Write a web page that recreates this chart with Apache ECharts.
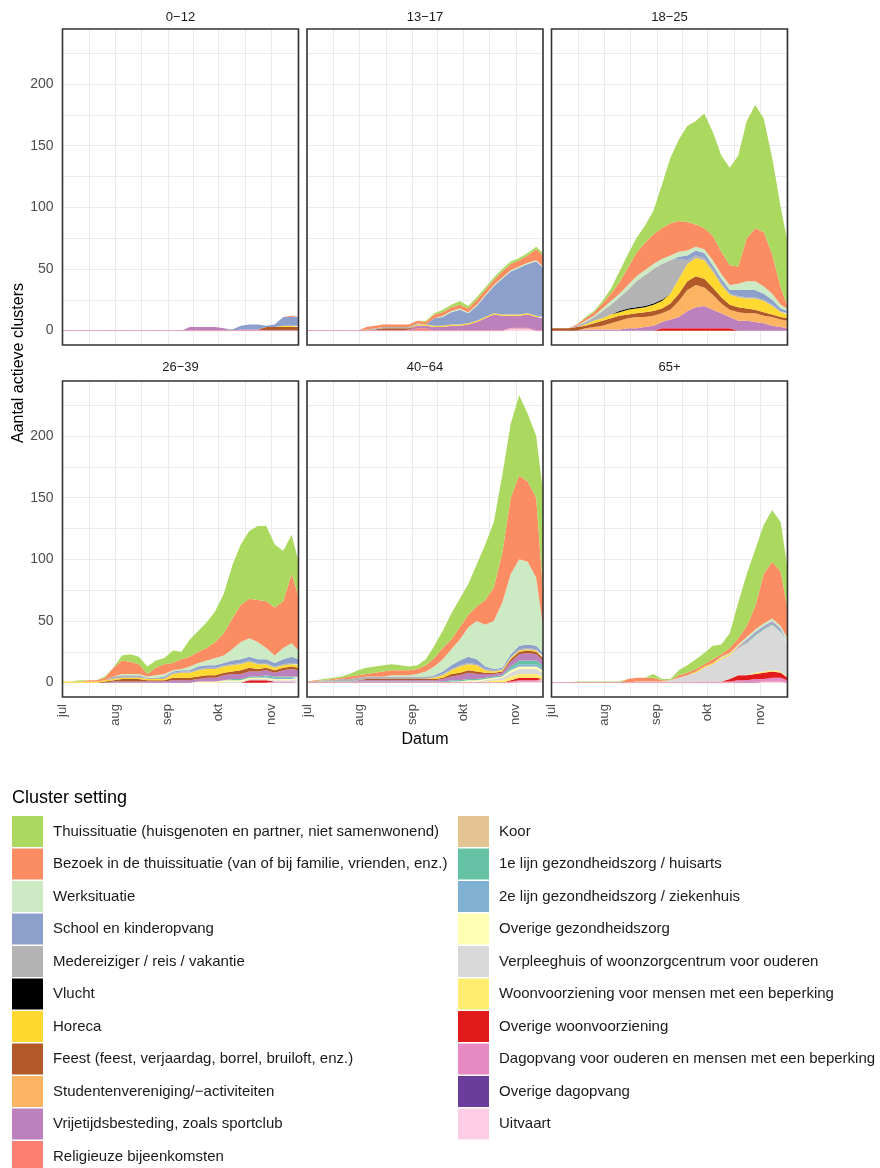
<!DOCTYPE html>
<html><head><meta charset="utf-8">
<script src="https://cdn.jsdelivr.net/npm/echarts@6.0.0/dist/echarts.min.js"></script>
<style>html,body{margin:0;padding:0;background:#fff}#c{width:880px;height:1168px}</style>
</head><body><div id="c"></div>
<script>
// ---------- categories / legend ----------
const categories = [
  'Thuissituatie (huisgenoten en partner, niet samenwonend)',
  'Bezoek in de thuissituatie (van of bij familie, vrienden, enz.)',
  'Werksituatie',
  'School en kinderopvang',
  'Medereiziger / reis / vakantie',
  'Vlucht',
  'Horeca',
  'Feest (feest, verjaardag, borrel, bruiloft, enz.)',
  'Studentenvereniging/\u2212activiteiten',
  'Vrijetijdsbesteding, zoals sportclub',
  'Religieuze bijeenkomsten',
  'Koor',
  '1e lijn gezondheidszorg / huisarts',
  '2e lijn gezondheidszorg / ziekenhuis',
  'Overige gezondheidszorg',
  'Verpleeghuis of woonzorgcentrum voor ouderen',
  'Woonvoorziening voor mensen met een beperking',
  'Overige woonvoorziening',
  'Dagopvang voor ouderen en mensen met een beperking',
  'Overige dagopvang',
  'Uitvaart'
];
const catKeys = ['thuis','bezoek','werk','school','mede','vlucht','horeca','feest','student','vrij','relig','koor','eerste','tweede','ovgez','verpl','woonv','ovwoon','dagopv','ovdag','uitvaart'];
const catColors = ['#ABD95F','#FC8D62','#CCEBC5','#8DA0CB','#B3B3B3','#000000','#FFD92F','#B15928','#FDB462','#BC80BD','#FB8072','#E5C494','#66C2A5','#80B1D3','#FFFFB3','#D9D9D9','#FFED6F','#E31A1C','#E78AC3','#6A3D9A','#FCCDE5'];
const panelNames = ['0\u221212','13\u221217','18\u221225','26\u221239','40\u221264','65+'];

// ---------- x: days since 1 July 2020 ----------
const days = [0,5,10,15,20,25,30,35,40,45,50,55,60,65,70,75,80,85,90,95,100,105,110,115,120,125,130,135,139];
const monthLabels = ['jul','aug','sep','okt','nov'];
const monthStarts = [0,31,62,92,123];
const xGridDays = [0,15.5,31,46.5,62,77,92,107.5,123,138.5];
const yTickLabels = [0,50,100,150,200];
const yGridValues = [0,25,50,75,100,125,150,175,200,225];

// ---------- panel 0-12 ----------
const d012_uitvaart = [0,0,0,0,0, 0,0,0,0,0, 0,0,0,0,0, 0,0,0,0,0, 0,0,0,0,0, 0,0,0,0];
const d012_vrij     = [0,0,0,0,0, 0,0,0,0,0, 0,0,0,0,0, 3,3,3,3,2, 0,1,1,1,0, 0,0,0,0];
const d012_school   = [0,0,0,0,0, 0,0,0,0,0, 0,0,0,0,0, 0,0,0,0,0, 1,3,4,4,1, 2,7,7,7];
const d012_feest    = [0,0,0,0,0, 0,0,0,0,0, 0,0,0,0,0, 0,0,0,0,0, 0,0,0,0,3, 3,3,3,3];
const d012_horeca   = [0,0,0,0,0, 0,0,0,0,0, 0,0,0,0,0, 0,0,0,0,0, 0,0,0,0,0, 0,1,1,1];
const d012_bezoek   = [0,0,0,0,0, 0,0,0,0,0, 0,0,0,0,0, 0,0,0,0,0, 0,0,0,0,0, 0,0,1,1];

// ---------- panel 13-17 ----------
const d1317_uitvaart = [0,0,0,0,0, 0,0,0,0,0, 0,0,0,0,0, 0,0,0,0,0, 0,0,0,0,2, 2,2,0,0];
const d1317_vrij     = [0,0,0,0,0, 0,0,0,0,0, 0,0,1,2,2, 3,3,4,4,5, 7,10,13,12,10, 10,11,11,10];
const d1317_relig    = [0,0,0,0,0, 0,0,0,0,0, 0,0,0,2,2, 0,0,0,0,0, 0,0,0,0,0, 0,0,0,0];
const d1317_feest    = [0,0,0,0,0, 0,0,0,1,2, 2,2,1,0,0, 0,0,0,0,0, 0,0,0,0,0, 0,0,0,0];
const d1317_horeca   = [0,0,0,0,0, 0,0,0,0,0, 0,0,0,1,1, 1,1,1,1,1, 1,1,1,1,1, 1,1,1,1];
const d1317_mede     = [0,0,0,0,0, 0,0,1,1,1, 1,1,1,1,0, 0,0,0,0,0, 0,0,0,0,0, 0,0,0,0];
const d1317_school   = [0,0,0,0,0, 0,0,0,0,0, 0,0,0,0,0, 6,7,10,12,8, 12,17,22,29,35, 38,40,44,40];
const d1317_werk     = [0,0,0,0,0, 0,0,0,0,0, 0,0,0,0,0, 0,1,1,1,1, 1,1,1,1,1, 1,1,1,1];
const d1317_bezoek   = [0,0,0,0,0, 0,0,2,2,2, 2,2,2,2,2, 3,3,3,3,3, 4,4,4,5,5, 5,6,9,9];
const d1317_thuis    = [0,0,0,0,0, 0,0,0,0,0, 0,0,0,0,1, 1,2,2,3,2, 2,2,2,2,2, 2,2,2,2];

// ---------- panel 18-25 ----------
const d1825_ovwoon  = [0,0,0,0,0, 0,0,0,0,0, 0,0,0,2,2, 2,2,2,2,2, 2,2,0,0,0, 0,0,0,0];
const d1825_vrij    = [0,0,0,0,1, 1,1,1,1,2, 2,3,4,5,7, 9,14,17,18,15, 12,9,8,8,7, 6,4,3,2];
const d1825_student = [0,0,0,0,1, 2,3,5,7,8, 9,8,8,7,8, 13,17,18,15,12, 8,6,7,6,7, 6,7,6,6];
const d1825_feest   = [2,2,2,3,2, 3,4,4,4,3, 3,4,4,4,5, 6,7,7,7,6, 5,4,4,4,3, 3,2,2,2];
const d1825_horeca  = [0,0,0,0,1, 2,2,3,3,4, 4,4,5,6,8, 12,14,15,15,13, 10,8,8,8,9, 9,7,4,3];
const d1825_vlucht  = [0,0,0,0,0, 0,0,0,1,1, 1,1,1,1,0, 0,0,0,0,0, 0,0,0,0,0, 0,0,0,0];
const d1825_mede    = [0,0,0,1,2, 3,6,8,11,15, 21,25,28,29,27, 16,3,2,2,2, 2,1,1,1,1, 1,1,1,1];
const d1825_school  = [0,0,0,0,0, 0,0,0,0,0, 0,0,0,0,0, 2,4,4,4,3, 3,3,5,6,6, 5,4,2,2];
const d1825_werk    = [0,0,0,0,1, 1,2,3,3,4, 4,4,4,4,4, 4,4,3,3,4, 4,4,5,7,7, 6,5,3,2];
const d1825_bezoek  = [0,0,0,1,2, 3,4,6,9,14, 19,22,24,25,26, 25,23,18,17,20, 18,16,14,35,43, 44,32,14,2];
const d1825_thuis   = [0,0,0,0,1, 1,2,4,9,11, 12,14,19,35,53, 66,78,84,93,84, 78,79,90,95,100, 92,78,65,52];

// ---------- panel 26-39 ----------
const d2639_ovwoon = [0,0,0,0,0, 0,0,0,0,0, 0,0,0,0,0, 0,0,0,0,0, 0,0,2,2,2, 0,0,0,0];
const d2639_dagopv = [0,0,0,0,0, 0,0,0,0,0, 0,0,0,0,0, 0,0,0,0,0, 0,0,0,0,0, 1,1,1,1];
const d2639_verpl  = [0,0,0,0,0, 0,0,0,0,0, 0,0,0,0,0, 0,0,0,0,1, 1,1,1,1,1, 1,1,1,1];
const d2639_ovgez  = [0,0,0,0,0, 0,0,0,0,0, 0,0,0,0,0, 0,1,1,1,1, 1,1,1,1,1, 1,1,1,1];
const d2639_eerste = [0,0,0,0,0, 0,0,0,0,0, 0,0,0,0,0, 0,0,0,0,0, 1,1,1,1,1, 1,1,1,1];
const d2639_tweede = [0,0,0,0,0, 0,0,0,0,0, 0,0,0,0,0, 0,0,0,0,0, 0,0,0,0,1, 1,1,1,1];
const d2639_vrij   = [0,0,0,0,0, 0,1,1,1,1, 1,1,1,2,2, 2,2,3,3,4, 4,4,4,4,4, 3,5,6,5];
const d2639_feest  = [0,0,0,0,0, 1,1,2,2,2, 1,1,1,2,2, 2,2,2,2,2, 2,3,3,2,2, 2,2,2,2];
const d2639_horeca = [1,1,1,1,1, 1,1,1,1,1, 1,1,1,3,4, 4,5,5,5,5, 5,5,5,4,3, 2,2,2,2];
const d2639_mede   = [0,0,0,0,0, 0,2,2,2,2, 1,1,1,1,1, 1,1,1,1,1, 1,1,1,1,1, 1,1,1,1];
const d2639_school = [0,0,0,0,0, 0,0,0,0,0, 0,0,1,1,1, 1,2,2,2,2, 3,3,3,3,3, 3,4,5,4];
const d2639_werk   = [0,0,0,0,0, 0,0,1,1,1, 1,2,2,1,1, 3,3,4,6,6, 9,14,15,14,9, 6,9,11,7];
const d2639_bezoek = [0,0,0,1,1, 2,7,11,10,8, 2,6,8,6,8, 8,9,10,13,18, 25,30,32,34,38, 39,38,56,44];
const d2639_thuis  = [0,0,1,0,0, 1,0,4,6,6, 6,6,5,10,6, 14,17,21,25,32, 43,49,55,60,61, 51,41,32,28];

// ---------- panel 40-64 ----------
const d4064_uitvaart = [0,0,0,0,0, 0,0,0,0,0, 0,0,0,0,0, 0,0,0,0,0, 0,0,0,0,0, 1,1,1,1];
const d4064_dagopv   = [0,0,0,0,0, 0,0,0,0,0, 0,0,0,0,0, 0,0,0,0,0, 0,0,0,0,1, 1,1,1,1];
const d4064_ovwoon   = [0,0,0,0,0, 0,0,0,0,0, 0,0,0,0,0, 0,0,0,0,0, 0,0,0,0,1, 2,2,2,1];
const d4064_woonv    = [0,0,0,0,0, 0,0,0,0,0, 0,0,0,0,0, 0,0,0,0,0, 0,1,2,2,3, 3,3,3,2];
const d4064_verpl    = [0,0,0,0,0, 0,0,0,0,0, 0,0,0,0,0, 0,0,0,0,1, 1,1,1,2,3, 4,4,4,3];
const d4064_ovgez    = [0,0,0,0,0, 0,0,0,0,0, 0,0,0,0,0, 0,0,1,1,1, 1,1,1,1,2, 2,2,2,2];
const d4064_tweede   = [0,0,0,0,0, 0,0,0,0,0, 0,0,0,0,0, 0,0,0,0,0, 0,0,0,0,1, 2,2,2,2];
const d4064_eerste   = [1,1,1,1,1, 1,1,1,1,1, 1,1,1,1,1, 1,1,1,1,1, 1,1,1,1,2, 3,3,3,2];
const d4064_vrij     = [0,0,0,0,0, 0,1,1,1,1, 1,1,1,1,1, 1,2,3,4,5, 4,3,2,2,4, 5,6,5,4];
const d4064_feest    = [0,0,0,0,0, 0,0,1,1,1, 1,1,1,1,1, 1,1,2,2,2, 2,1,1,1,2, 2,2,2,2];
const d4064_horeca   = [0,0,0,0,0, 0,0,0,0,0, 0,0,0,0,0, 1,2,3,5,5, 5,2,1,1,1, 1,1,1,1];
const d4064_mede     = [0,0,1,1,2, 2,2,2,2,2, 2,2,2,2,2, 1,1,1,1,1, 1,1,1,1,1, 1,1,1,1];
const d4064_school   = [0,0,0,0,0, 0,0,0,0,0, 0,0,0,0,0, 1,2,3,4,5, 4,2,1,1,2, 3,3,3,2];
const d4064_werk     = [0,0,0,0,0, 0,0,0,0,0, 1,1,1,2,4, 7,10,13,17,24, 31,34,39,53,65, 70,67,55,21];
const d4064_bezoek   = [0,1,0,1,1, 2,2,2,3,4, 4,4,4,4,5, 7,9,8,10,10, 12,20,27,40,62, 68,65,65,30];
const d4064_thuis    = [0,0,1,1,1, 2,4,5,5,5, 5,4,3,3,5, 10,14,21,23,25, 34,45,53,63,60, 65,55,50,80];

// ---------- panel 65+ ----------
const d65_uitvaart = [0,0,0,0,0, 0,0,0,0,0, 0,0,0,0,0, 0,0,0,0,0, 0,0,0,0,0, 1,1,1,0];
const d65_ovdag    = [0,0,0,0,0, 0,0,0,0,0, 0,0,0,0,0, 0,0,0,0,0, 0,0,1,1,1, 0,0,0,0];
const d65_dagopv   = [0,0,0,0,0, 0,0,0,0,0, 0,0,0,0,0, 0,0,1,1,1, 1,1,1,1,2, 2,3,3,2];
const d65_ovwoon   = [0,0,0,0,0, 0,0,0,0,0, 0,0,0,0,0, 0,0,0,0,0, 0,2,4,4,4, 5,5,4,2];
const d65_woonv    = [0,0,0,0,0, 0,0,0,0,0, 0,0,0,0,0, 0,0,0,0,0, 0,0,0,0,1, 1,1,1,1];
const d65_verpl    = [0,0,0,0,0, 0,0,0,0,0, 1,1,1,1,2, 4,6,7,11,14, 18,19,22,26,30, 34,37,32,26];
const d65_eerste   = [0,0,0,0,0, 0,0,0,0,0, 0,0,0,0,0, 0,0,0,0,0, 0,0,0,1,1, 1,1,1,1];
const d65_vrij     = [0,0,0,0,0, 0,0,0,0,0, 0,0,0,0,0, 0,0,0,0,0, 0,0,1,1,1, 1,1,1,1];
const d65_horeca   = [0,0,0,0,0, 0,0,0,0,0, 0,0,0,0,0, 0,0,1,1,1, 1,1,1,0,0, 0,0,0,0];
const d65_school   = [0,0,0,0,0, 0,0,0,0,0, 0,0,0,0,0, 0,0,0,0,0, 0,0,0,1,1, 1,1,1,1];
const d65_werk     = [0,0,0,0,0, 0,0,0,0,0, 0,0,0,0,0, 0,0,0,0,0, 1,1,1,2,2, 2,2,2,2];
const d65_bezoek   = [0,0,0,0,0, 0,0,0,0,3, 3,3,3,1,0, 2,2,2,2,3, 2,4,5,9,19, 40,46,44,24];
const d65_thuis    = [0,0,0,1,1, 1,1,1,1,0, 0,0,3,1,1, 4,6,8,9,11, 8,12,29,42,46, 40,42,40,33];

const panelData = [
  {uitvaart:d012_uitvaart, vrij:d012_vrij, school:d012_school, feest:d012_feest, horeca:d012_horeca, bezoek:d012_bezoek},
  {uitvaart:d1317_uitvaart, vrij:d1317_vrij, relig:d1317_relig, feest:d1317_feest, horeca:d1317_horeca, mede:d1317_mede, school:d1317_school, werk:d1317_werk, bezoek:d1317_bezoek, thuis:d1317_thuis},
  {ovwoon:d1825_ovwoon, vrij:d1825_vrij, student:d1825_student, feest:d1825_feest, horeca:d1825_horeca, vlucht:d1825_vlucht, mede:d1825_mede, school:d1825_school, werk:d1825_werk, bezoek:d1825_bezoek, thuis:d1825_thuis},
  {ovwoon:d2639_ovwoon, dagopv:d2639_dagopv, verpl:d2639_verpl, ovgez:d2639_ovgez, eerste:d2639_eerste, tweede:d2639_tweede, vrij:d2639_vrij, feest:d2639_feest, horeca:d2639_horeca, mede:d2639_mede, school:d2639_school, werk:d2639_werk, bezoek:d2639_bezoek, thuis:d2639_thuis},
  {uitvaart:d4064_uitvaart, dagopv:d4064_dagopv, ovwoon:d4064_ovwoon, woonv:d4064_woonv, verpl:d4064_verpl, ovgez:d4064_ovgez, tweede:d4064_tweede, eerste:d4064_eerste, vrij:d4064_vrij, feest:d4064_feest, horeca:d4064_horeca, mede:d4064_mede, school:d4064_school, werk:d4064_werk, bezoek:d4064_bezoek, thuis:d4064_thuis},
  {uitvaart:d65_uitvaart, ovdag:d65_ovdag, dagopv:d65_dagopv, ovwoon:d65_ovwoon, woonv:d65_woonv, verpl:d65_verpl, eerste:d65_eerste, vrij:d65_vrij, horeca:d65_horeca, school:d65_school, werk:d65_werk, bezoek:d65_bezoek, thuis:d65_thuis}
];

// ---------- layout ----------
const FONT = '"Liberation Sans", Arial, Helvetica, sans-serif';
const colLeft = [62.5, 307, 551.5];
const rowTop = [29, 381];
const PW = 236, PH = 316;
const yMin = -11.65, yMax = 244.6;

const chart = echarts.init(document.getElementById('c'), null, {renderer: 'canvas'});
const grids = [], xAxes = [], yAxes = [], series = [], graphics = [];

panelNames.forEach((pn, i) => {
  const r = Math.floor(i / 3), c = i % 3;
  grids.push({left: colLeft[c], top: rowTop[r], width: PW, height: PH, show: true,
    borderColor: '#333333', borderWidth: 1.6, backgroundColor: 'rgba(0,0,0,0)', z: 3, containLabel: false});
  xAxes.push({type: 'value', gridIndex: i, min: 0, max: 139,
    axisLine: {show: false},
    axisTick: {show: false, customValues: xGridDays},
    axisLabel: {show: r === 1, customValues: monthStarts,
      formatter: v => { const k = monthStarts.indexOf(v); return k >= 0 ? monthLabels[k] : ''; },
      rotate: 90, margin: 7, fontSize: 13, color: '#4D4D4D', fontFamily: FONT},
    splitLine: {show: true, lineStyle: {color: '#EBEBEB', width: 1}}
  });
  yAxes.push({type: 'value', gridIndex: i, min: yMin, max: yMax,
    axisLine: {show: false},
    axisTick: {show: false, customValues: yGridValues},
    axisLabel: {show: c === 0, customValues: yTickLabels, margin: 9, fontSize: 14, color: '#4D4D4D', fontFamily: FONT},
    splitLine: {show: true, lineStyle: {color: '#EBEBEB', width: 1}}
  });
  graphics.push({type: 'text', x: colLeft[c] + PW / 2, y: r === 0 ? 17.5 : 367.5, z: 10,
    style: {text: pn, font: '13px ' + FONT, fill: '#1A1A1A', textAlign: 'center', textVerticalAlign: 'middle', align: 'center', verticalAlign: 'middle'}});
  for (let k = categories.length - 1; k >= 0; k--) {
    const arr = panelData[i][catKeys[k]];
    series.push({
      name: categories[k], type: 'line', xAxisIndex: i, yAxisIndex: i, stack: 'p' + i,
      // value first so that the value dimension is the one stacked; day mapped to x
      data: arr ? days.map((d, j) => [arr[j], d]) : [],
      encode: {x: 1, y: 0},
      symbol: 'none', showSymbol: false, silent: true, animation: false,
      lineStyle: k === 20 ? {width: 1, color: '#EFA3B5'} : {width: 0},
      areaStyle: {color: catColors[k], opacity: 1},
      itemStyle: {color: catColors[k]},
      emphasis: {disabled: true}, z: 2
    });
  }
});

graphics.push({type: 'text', x: 19, y: 363, rotation: Math.PI / 2, z: 10,
  style: {text: 'Aantal actieve clusters', font: '16px ' + FONT, fill: '#000', textAlign: 'center', textVerticalAlign: 'middle', align: 'center', verticalAlign: 'middle'}});
graphics.push({type: 'text', x: 425, y: 740, z: 10,
  style: {text: 'Datum', font: '16px ' + FONT, fill: '#000', textAlign: 'center', textVerticalAlign: 'middle', align: 'center', verticalAlign: 'middle'}});
graphics.push({type: 'text', x: 12, y: 798, z: 10,
  style: {text: 'Cluster setting', font: '18px ' + FONT, fill: '#000', textAlign: 'left', textVerticalAlign: 'middle', align: 'left', verticalAlign: 'middle'}});

const legendBase = {orient: 'vertical', top: 816, height: 400, itemWidth: 31, itemHeight: 31, itemGap: 1.5, icon: 'rect',
  padding: 0, selectedMode: false, itemStyle: {borderWidth: 0},
  textStyle: {fontSize: 15, color: '#1A1A1A', fontFamily: FONT, padding: [0, 0, 0, 5]}};

chart.setOption({
  animation: false,
  backgroundColor: '#FFFFFF',
  grid: grids, xAxis: xAxes, yAxis: yAxes, series: series,
  legend: [
    Object.assign({}, legendBase, {left: 12, data: categories.slice(0, 11)}),
    Object.assign({}, legendBase, {left: 458, data: categories.slice(11)})
  ],
  graphic: graphics
});
</script></body></html>
